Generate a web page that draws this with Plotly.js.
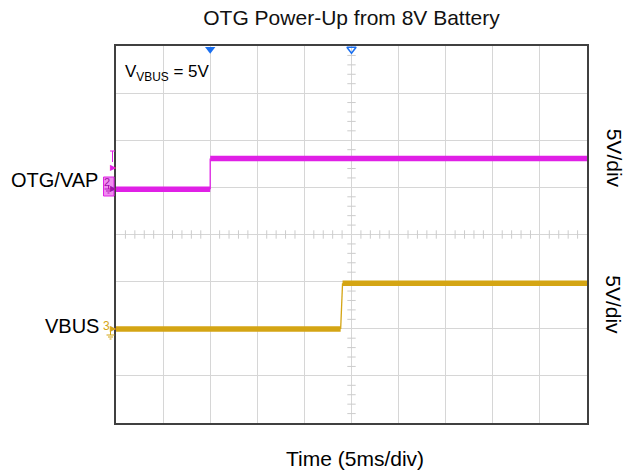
<!DOCTYPE html>
<html>
<head>
<meta charset="utf-8">
<script src="https://cdn.plot.ly/plotly-3.0.1.min.js"></script>
<style>html,body{margin:0;padding:0;background:#fff;}#chart{width:640px;height:473px;}</style>
</head>
<body>
<div id="chart"></div>
<script>
// Time axis: 5 ms/div, 10 divisions; vertical: 5 V/div, 8 divisions
const timeRange = [-25, 25];          // ms
const divRange = [-4, 4];             // divisions

// OTG/VAP channel (volts), ground reference at +1 div
const otgOffsetDiv = 1;
const otgTime  = [-25, -15, -15, 25];
const otgVolts = [-0.19, -0.19, 3.07, 3.07];

// VBUS channel (volts), ground reference at -2 div
const vbusOffsetDiv = -2;
const vbusTime  = [-25, -1.15, -0.95, 25];
const vbusVolts = [-0.03, -0.03, 4.83, 4.83];

const voltsPerDiv = 5;
const triggerTimes = [-15, 0];

const MAG = '#e020e6';
const YEL = '#d4a514';
const toDiv = (v, off) => v.map(x => off + x / voltsPerDiv);

function bandTrace(t, v, off, color) {
  const y = toDiv(v, off);
  return {
    x: [t[0], t[1], null, t[2], t[3]],
    y: [y[0], y[1], null, y[2], y[3]],
    mode: 'lines', line: {color: color, width: 5.5}, hoverinfo: 'skip'
  };
}
function edgeTrace(t, v, off, color) {
  const y = toDiv(v, off);
  return {x: [t[1], t[2]], y: [y[1], y[2]], mode: 'lines',
    line: {color: color, width: 1.3}, hoverinfo: 'skip'};
}

// graticule minor ticks on the centre lines (1/5 div)
const minorX = [], minorY = [];
for (let i = -25; i <= 25; i++) if (i % 5 !== 0) minorX.push(i);
for (let i = -20; i <= 20; i++) if (i % 5 !== 0) minorY.push(i / 5);

const traces = [
  {x: minorX, y: minorX.map(() => 0), mode: 'markers', hoverinfo: 'skip',
   marker: {symbol: 'line-ns', size: 6, line: {color: '#cccccc', width: 1}}},
  {x: minorY.map(() => 0), y: minorY, mode: 'markers', hoverinfo: 'skip',
   marker: {symbol: 'line-ew', size: 6, line: {color: '#cccccc', width: 1}}},
  edgeTrace(otgTime, otgVolts, otgOffsetDiv, MAG),
  bandTrace(otgTime, otgVolts, otgOffsetDiv, MAG),
  edgeTrace(vbusTime, vbusVolts, vbusOffsetDiv, YEL),
  bandTrace(vbusTime, vbusVolts, vbusOffsetDiv, YEL),
  // trigger position markers at top
  {x: [triggerTimes[0]], y: [3.93], mode: 'markers', cliponaxis: false, hoverinfo: 'skip',
   marker: {symbol: 'triangle-down', size: 9, color: '#1a6ff0', line: {width: 0}}},
  {x: [triggerTimes[1]], y: [3.93], mode: 'markers', cliponaxis: false, hoverinfo: 'skip',
   marker: {symbol: 'triangle-down-open', size: 8, color: '#1a6ff0', line: {width: 1.5, color: '#1a6ff0'}}}
];

const px = p => (p - 116) / 471;      // paper x of a side label
const py = p => (423 - p) / 377;      // paper y of a side label
const F = 'Liberation Sans, Arial, sans-serif';

function ground(cx, top, color) {
  return [
    {type: 'line', xref: 'paper', yref: 'paper', x0: px(cx), x1: px(cx), y0: py(top), y1: py(top + 4), line: {color: color, width: 1}},
    {type: 'line', xref: 'paper', yref: 'paper', x0: px(cx - 4), x1: px(cx + 4), y0: py(top + 4), y1: py(top + 4), line: {color: color, width: 1}},
    {type: 'line', xref: 'paper', yref: 'paper', x0: px(cx - 2.5), x1: px(cx + 2.5), y0: py(top + 6), y1: py(top + 6), line: {color: color, width: 1}},
    {type: 'line', xref: 'paper', yref: 'paper', x0: px(cx - 1), x1: px(cx + 1), y0: py(top + 8), y1: py(top + 8), line: {color: color, width: 1}}
  ];
}

const layout = {
  width: 640, height: 473,
  margin: {l: 116, r: 53, t: 46, b: 50, pad: 0},
  paper_bgcolor: '#ffffff', plot_bgcolor: '#ffffff',
  showlegend: false,
  font: {family: F, color: '#000'},
  title: {text: 'OTG Power-Up from 8V Battery', font: {family: F, size: 21, color: '#111'},
          x: 0.5, xref: 'paper', xanchor: 'center', y: 1 - 18 / 473, yref: 'container', yanchor: 'middle'},
  xaxis: {range: timeRange, dtick: 5, tick0: 0, showgrid: true, gridcolor: '#d6d6d6', gridwidth: 1,
          zeroline: false, showticklabels: false, ticks: '', showline: true, mirror: true,
          linecolor: '#404040', linewidth: 1.6, fixedrange: true},
  yaxis: {range: divRange, dtick: 1, tick0: 0, showgrid: true, gridcolor: '#d6d6d6', gridwidth: 1,
          zeroline: false, showticklabels: false, ticks: '', showline: true, mirror: true,
          linecolor: '#404040', linewidth: 1.6, fixedrange: true},
  shapes: [
    {type: 'rect', xref: 'paper', yref: 'paper', x0: px(103.5), x1: px(114), y0: py(196), y1: py(177),
     fillcolor: '#f08cf0', line: {color: MAG, width: 1}},
    {type: 'line', xref: 'paper', yref: 'paper', x0: px(112.5), x1: px(112.5), y0: py(151), y1: py(162), line: {color: MAG, width: 1}},
    {type: 'line', xref: 'paper', yref: 'paper', x0: px(110), x1: px(115), y0: py(151), y1: py(151), line: {color: MAG, width: 1}}
  ].concat(ground(108.5, 185, '#b018b8'), ground(110.5, 331, YEL)),
  annotations: [
    {text: 'OTG/VAP', xref: 'paper', yref: 'y', x: px(100), y: 1.16, xanchor: 'right', yanchor: 'middle',
     showarrow: false, font: {size: 20, family: F}},
    {text: 'VBUS', xref: 'paper', yref: 'y', x: px(101), y: -1.95, xanchor: 'right', yanchor: 'middle',
     showarrow: false, font: {size: 20, family: F}},
    {text: '5V/div', xref: 'paper', yref: 'y', x: px(614), y: 1.63, textangle: 90, xanchor: 'center', yanchor: 'middle',
     showarrow: false, font: {size: 21, family: F}},
    {text: '5V/div', xref: 'paper', yref: 'y', x: px(614), y: -1.48, textangle: 90, xanchor: 'center', yanchor: 'middle',
     showarrow: false, font: {size: 21, family: F}},
    {text: 'Time (5ms/div)', xref: 'paper', yref: 'paper', x: px(355), y: py(458), xanchor: 'center', yanchor: 'middle',
     showarrow: false, font: {size: 21, family: F}},
    {text: 'V<sub>VBUS</sub> = 5V', xref: 'paper', yref: 'paper', x: px(123), y: py(73), xanchor: 'left', yanchor: 'middle',
     showarrow: false, font: {size: 17, family: F}},
    {text: '▶', xref: 'paper', yref: 'paper', x: px(113.5), y: py(167), xanchor: 'center', yanchor: 'middle',
     showarrow: false, font: {size: 8, family: 'DejaVu Sans', color: MAG}},
    {text: '2', xref: 'paper', yref: 'paper', x: px(106.5), y: py(181.5), xanchor: 'center', yanchor: 'middle',
     showarrow: false, font: {size: 11, family: F, color: '#a010a8'}},
    {text: '▶', xref: 'paper', yref: 'paper', x: px(113), y: py(188.5), xanchor: 'center', yanchor: 'middle',
     showarrow: false, font: {size: 8, family: 'DejaVu Sans', color: '#a010a8'}},
    {text: '3', xref: 'paper', yref: 'paper', x: px(106), y: py(326), xanchor: 'center', yanchor: 'middle',
     showarrow: false, font: {size: 12, family: F, color: YEL}},
    {text: '▶', xref: 'paper', yref: 'paper', x: px(113.5), y: py(328), xanchor: 'center', yanchor: 'middle',
     showarrow: false, font: {size: 8, family: 'DejaVu Sans', color: YEL}}
  ]
};

Plotly.newPlot('chart', traces, layout, {displayModeBar: false, staticPlot: true});
</script>
</body>
</html>
